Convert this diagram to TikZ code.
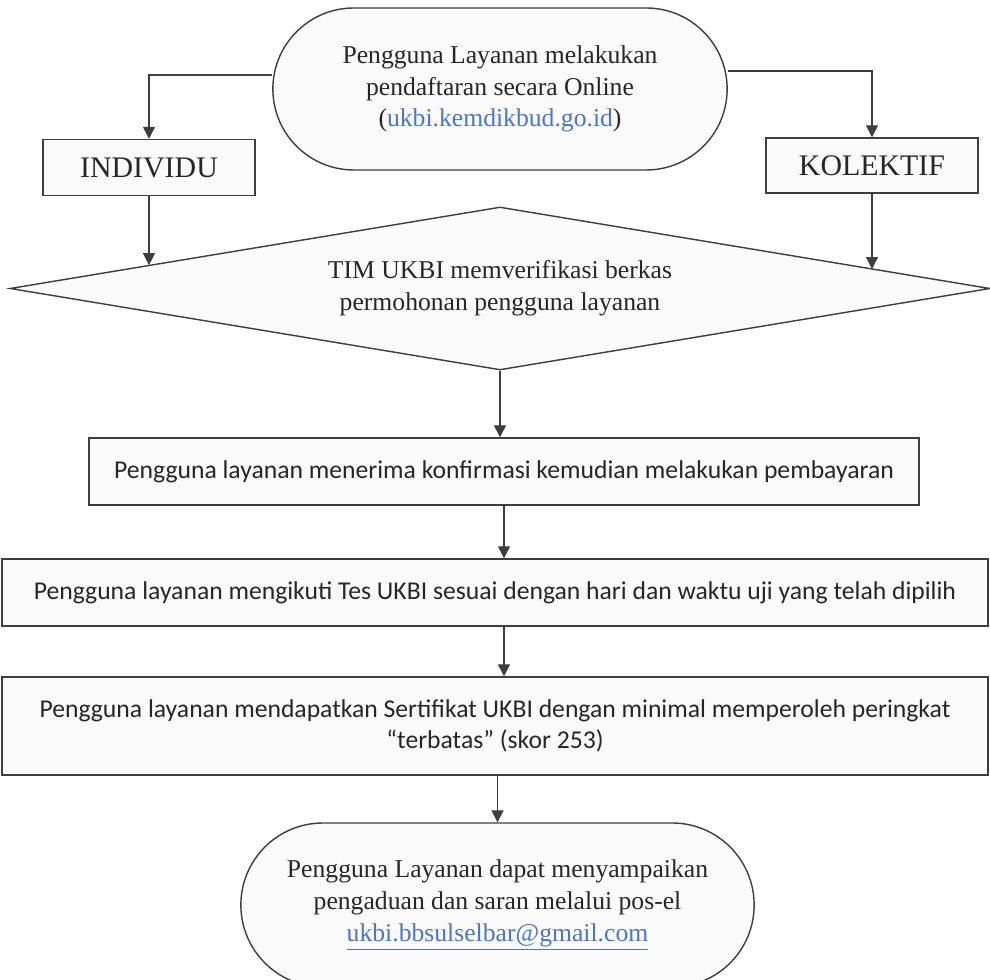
\documentclass[tikz,border=0pt]{standalone}
\usepackage{fontspec}
\setmainfont{Liberation Serif}
\newfontfamily\calibri{Carlito}
\usetikzlibrary{shapes.geometric,shapes.misc,calc,arrows.meta}
\definecolor{linkblue}{RGB}{72,118,200}
\definecolor{inkgray}{RGB}{62,62,62}

\begin{document}
\begin{tikzpicture}[
  every node/.style={text=black!85, font=\fontsize{14.6}{18}\selectfont},
  flowline/.style={draw=inkgray, line width=0.8pt, fill=black!2},
  stadium/.style={flowline, rounded rectangle, align=center},
  kotak/.style={flowline, rectangle, align=center, inner sep=0pt},
  kotaksans/.style={kotak, font=\calibri\fontsize{14.6}{18}\selectfont},
  panah/.style={draw=inkgray, line width=0.8pt, -{Triangle[length=0.24cm,width=0.24cm]}}
]
\useasboundingbox (0,0) rectangle (19.8,19.6);

% pendaftaran
\node[stadium, minimum width=9.32cm, minimum height=3.24cm] (daftar) at (10,17.82)
  {Pengguna Layanan melakukan\\ pendaftaran secara Online\\ (\textcolor{linkblue}{ukbi.kemdikbud.go.id})};
\node[kotak, minimum width=4.24cm, minimum height=1.12cm, font=\fontsize{17}{20}\selectfont] (indiv) at (2.98,16.25) {INDIVIDU};
\node[kotak, minimum width=4.24cm, minimum height=1.10cm, font=\fontsize{17}{20}\selectfont] (kolek) at (17.44,16.29) {KOLEKTIF};

% verifikasi
\node[flowline, diamond, shape aspect=6, inner sep=0pt, align=center,
  minimum width=19.6cm, minimum height=3.26cm] (verif) at (10,13.83)
  {TIM UKBI memverifikasi berkas\\ permohonan pengguna layanan};
\coordinate (vin) at ($(verif.west)!0.284!(verif.north)$);
\coordinate (kin) at ($(verif.north)!0.763!(verif.east)$);

% langkah
\node[kotaksans, minimum width=16.6cm, minimum height=1.34cm] (bayar) at (10.08,10.17)
  {Pengguna layanan menerima konfirmasi kemudian melakukan pembayaran};
\node[kotaksans, minimum width=19.72cm, minimum height=1.34cm] (tes) at (9.9,7.75)
  {Pengguna layanan mengikuti Tes UKBI sesuai dengan hari dan waktu uji yang telah dipilih};
\node[kotaksans, minimum width=19.72cm, minimum height=1.96cm] (sertif) at (9.9,5.08)
  {Pengguna layanan mendapatkan Sertifikat UKBI dengan minimal memperoleh peringkat\\ “terbatas” (skor 253)};

% pengaduan
\node[stadium, minimum width=10.5cm, minimum height=3.28cm] (aduan) at (9.95,1.5)
  {Pengguna Layanan dapat menyampaikan\\ pengaduan dan saran melalui pos-el\\ \textcolor{linkblue}{\underline{ukbi.bbsulselbar@gmail.com}}};

\draw[panah] ([yshift=0.28cm]daftar.west) -| (indiv.north);
\draw[panah] ([yshift=0.36cm]daftar.east) -| (kolek.north);
\draw[panah] (indiv.south) -- (indiv.south |- vin);
\draw[panah] (kolek.south) -- (kolek.south |- kin);
\draw[panah] (verif.south) -- (verif.south |- bayar.north);
\draw[panah] (bayar.south) -- (bayar.south |- tes.north);
\draw[panah] (bayar.south |- tes.south) -- (bayar.south |- sertif.north);
\draw[panah] (aduan.north |- sertif.south) -- (aduan.north);

\end{tikzpicture}
\end{document}
